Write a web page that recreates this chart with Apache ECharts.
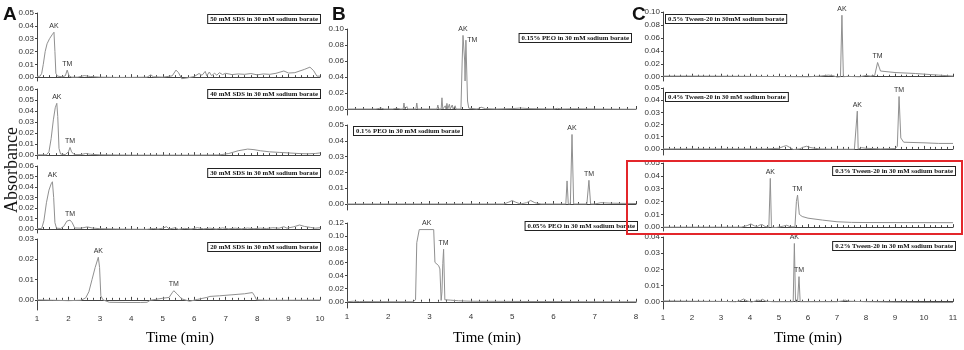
<!DOCTYPE html>
<html>
<head>
<meta charset="utf-8">
<script src="https://cdn.jsdelivr.net/npm/echarts@6/dist/echarts.min.js"></script>
<style>
  html, body { margin: 0; padding: 0; background: #fff; }
  #chart { width: 964px; height: 350px; }
</style>
</head>
<body>
<div id="chart"></div>
<script>
// ---- traces: [time (min), absorbance] ----
const sds50 = [[1.0,0.0005],[1.1,0.0008],[1.15,0.003],[1.2,0.01],[1.26,0.02],[1.32,0.026],[1.4,0.03],[1.48,0.033],[1.54,0.035],[1.57,0.02],[1.6,0.003],[1.65,0.0008],[1.8,0.0003],[1.9,0.001],[1.96,0.0055],[2.02,0.001],[2.1,0.0],[2.3,0.0],[2.5,0.0012],[2.7,0.0005],[3.0,0.0],[3.5,-0.0002],[4.0,-0.0002],[4.5,0.0],[4.62,0.0018],[4.7,0.0003],[5.0,0.0],[5.3,0.001],[5.42,0.0055],[5.5,0.0035],[5.6,-0.0012],[5.8,-0.0005],[6.0,0.0005],[6.15,0.0028],[6.25,0.0015],[6.35,0.0045],[6.4,0.001],[6.48,0.004],[6.55,0.0012],[6.65,0.003],[6.72,0.0015],[6.8,0.0035],[6.9,0.002],[7.0,0.003],[7.2,0.002],[7.4,0.0025],[7.6,0.0022],[7.8,0.0028],[8.0,0.0018],[8.2,0.0025],[8.4,0.0022],[8.6,0.003],[8.85,0.0048],[9.0,0.0032],[9.2,0.0035],[9.5,0.006],[9.68,0.0078],[9.8,0.005],[9.9,0.0008],[10.0,0.0008]];
const sds40 = [[1.0,0.0003],[1.3,0.0003],[1.38,0.003],[1.45,0.015],[1.52,0.032],[1.58,0.043],[1.63,0.047],[1.66,0.035],[1.7,0.006],[1.75,0.001],[1.9,0.0005],[2.0,0.003],[2.05,0.007],[2.1,0.003],[2.18,0.0005],[2.4,0.0005],[2.55,0.0015],[2.7,0.0008],[3.0,0.0003],[4.0,0.0],[5.0,0.0],[6.0,0.0],[6.8,0.0002],[7.1,0.0015],[7.4,0.004],[7.7,0.0055],[7.9,0.005],[8.1,0.004],[8.4,0.003],[8.7,0.0025],[9.0,0.002],[9.3,0.0015],[9.6,0.0012],[9.85,0.0015],[10.0,0.002]];
const sds30 = [[1.0,0.0003],[1.15,0.0005],[1.22,0.008],[1.3,0.025],[1.38,0.037],[1.45,0.043],[1.49,0.045],[1.53,0.03],[1.57,0.006],[1.62,0.0008],[1.75,0.0005],[1.85,0.0025],[1.95,0.0075],[2.05,0.0085],[2.12,0.006],[2.2,0.001],[2.4,0.0008],[2.6,0.002],[2.75,0.001],[3.0,0.0003],[3.5,0.0],[4.0,-0.0002],[4.5,-0.0003],[4.7,0.0005],[4.85,0.0],[5.0,0.0008],[5.12,0.0022],[5.2,0.0],[5.4,0.0012],[5.5,-0.0003],[5.7,0.0006],[5.9,0.0],[6.1,0.0012],[6.3,0.0002],[6.5,0.0008],[6.7,0.0],[6.9,0.001],[7.1,0.0002],[7.3,0.0008],[7.5,0.0002],[7.7,0.0009],[7.9,0.0003],[8.1,0.0008],[8.3,0.0005],[8.5,0.0012],[8.7,0.0008],[8.85,0.0022],[8.95,0.0008],[9.15,0.002],[9.35,0.0038],[9.5,0.0025],[9.7,0.0015],[9.85,0.0008],[10.0,0.0012]];
const sds20 = [[1.0,0.0],[1.5,-0.0002],[2.0,-0.0004],[2.4,-0.0002],[2.55,0.001],[2.65,0.004],[2.75,0.01],[2.85,0.016],[2.95,0.021],[2.99,0.016],[3.03,0.002],[3.1,0.0],[3.3,-0.0012],[3.8,-0.0013],[4.3,-0.0013],[4.5,-0.0012],[4.6,-0.0002],[4.8,0.0003],[5.0,0.0008],[5.2,0.0012],[5.3,0.0035],[5.35,0.0045],[5.45,0.003],[5.6,0.0005],[5.85,-0.0007],[6.1,0.0002],[6.4,0.0012],[6.5,0.0017],[6.8,0.002],[7.2,0.0025],[7.6,0.003],[7.85,0.0036],[7.92,0.002],[7.98,0.0],[8.3,-0.0002],[9.0,-0.0002],[10.0,-0.0001]];

const peo015 = [[1.0,0.0],[1.7,0.0],[1.82,0.0012],[1.9,0.0],[2.1,0.0],[2.2,0.0009],[2.3,0.0],[2.36,0.0],[2.38,0.0075],[2.4,0.0],[2.43,0.0],[2.45,0.003],[2.47,0.0],[2.67,0.0],[2.69,0.0075],[2.71,0.0],[3.18,0.0],[3.2,0.005],[3.22,0.0],[3.28,0.0],[3.3,0.014],[3.32,0.0],[3.36,0.0],[3.38,0.004],[3.4,0.0],[3.42,0.007],[3.44,0.0],[3.48,0.006],[3.5,0.0],[3.55,0.005],[3.57,0.0],[3.62,0.004],[3.64,0.0],[3.76,0.0],[3.79,0.06],[3.81,0.092],[3.83,0.091],[3.85,0.06],[3.86,0.035],[3.88,0.086],[3.9,0.086],[3.92,0.01],[3.95,0.001],[4.15,0.0],[4.25,0.0022],[4.35,0.0005],[4.6,0.0],[5.0,0.0005],[5.2,0.0012],[5.4,0.0005],[6.0,0.0],[6.1,0.0008],[6.2,0.0],[6.5,0.0003],[7.0,0.0],[8.0,-0.0003]];
const peo010 = [[1.0,0.0],[3.0,0.0],[4.8,0.0],[4.92,0.0012],[5.0,0.0022],[5.08,0.0012],[5.2,0.0],[5.35,0.0008],[5.45,0.0022],[5.55,0.0008],[5.7,0.0],[6.3,0.0],[6.33,0.0146],[6.36,0.0],[6.41,0.0],[6.45,0.044],[6.49,0.0],[6.81,0.0],[6.86,0.015],[6.9,0.0],[7.0,0.0],[7.15,0.0008],[7.4,0.0005],[8.0,0.0003]];
const peo005 = [[1.0,0.0],[1.15,0.0008],[1.3,0.0003],[2.0,0.0],[2.6,0.0],[2.66,0.003],[2.69,0.09],[2.75,0.11],[3.1,0.11],[3.13,0.06],[3.22,0.055],[3.25,0.05],[3.28,0.002],[3.3,0.015],[3.32,0.058],[3.34,0.08],[3.37,0.003],[3.5,0.0025],[3.7,0.0015],[4.0,0.0008],[5.0,0.0005],[6.0,0.0003],[7.0,0.0],[8.0,0.0]];

const tween05 = [[1.0,0.001],[2.0,0.001],[3.0,0.0008],[4.0,0.0005],[5.0,0.0003],[6.0,0.0],[6.4,0.0008],[6.7,0.0025],[6.85,0.0018],[7.0,-0.0005],[7.12,0.0],[7.17,0.095],[7.22,0.0],[7.35,0.0005],[7.8,0.0],[8.0,0.002],[8.15,0.001],[8.3,0.002],[8.4,0.022],[8.5,0.0088],[9.0,0.0065],[9.7,0.005],[10.0,0.004],[10.5,0.0025],[11.0,0.001]];
const tween04 = [[1.0,0.0],[3.0,0.0],[4.5,0.0],[5.0,0.0005],[5.15,0.002],[5.26,0.0027],[5.35,0.0015],[5.5,-0.0005],[5.7,0.0],[5.85,0.0015],[5.95,0.0022],[6.1,0.001],[6.4,0.0],[7.0,-0.0003],[7.6,-0.0003],[7.66,0.0],[7.7,0.031],[7.73,0.0],[7.85,0.001],[8.0,0.0005],[8.5,0.0],[9.0,0.0003],[9.08,0.002],[9.14,0.043],[9.2,0.009],[9.3,0.0055],[10.0,0.005],[10.5,0.0045],[11.0,0.0045]];
const tween03 = [[1.0,0.0],[2.0,0.0],[3.0,0.0],[3.7,0.0],[3.9,0.0012],[4.03,0.0025],[4.15,0.001],[4.25,0.0005],[4.35,0.0018],[4.42,0.002],[4.52,0.0005],[4.65,0.0],[4.7,0.038],[4.74,0.0],[4.9,-0.0003],[5.15,0.0008],[5.26,0.0015],[5.4,0.0003],[5.55,0.0003],[5.6,0.02],[5.64,0.025],[5.7,0.01],[5.8,0.0083],[6.0,0.007],[6.5,0.0055],[7.0,0.0042],[7.5,0.0037],[8.0,0.0036],[11.0,0.0035]];
const tween02 = [[1.0,0.0005],[2.0,0.0003],[3.0,0.0002],[3.5,0.0],[3.65,0.0005],[3.78,0.0017],[3.9,0.0005],[4.05,-0.0002],[4.2,0.0005],[4.28,0.001],[4.35,0.0007],[4.43,0.0015],[4.55,0.0003],[4.8,0.0],[5.49,0.0],[5.53,0.036],[5.57,0.0],[5.64,0.0],[5.69,0.0155],[5.73,0.0],[6.0,0.0],[7.0,0.0],[7.2,0.0005],[7.28,0.001],[7.4,0.0003],[8.0,0.0],[9.0,-0.0003],[10.0,-0.0005],[11.0,-0.0005]];

// peak annotations: [name, time, absorbance]
const peaksSds50 = [["AK",1.54,0.035],["TM",1.96,0.0055]];
const peaksSds40 = [["AK",1.63,0.047],["TM",2.05,0.007]];
const peaksSds30 = [["AK",1.49,0.045],["TM",2.05,0.0085]];
const peaksSds20 = [["AK",2.95,0.021],["TM",5.35,0.0045]];
const peaksPeo015 = [["AK",3.81,0.092],["TM",3.89,0.086]];
const peaksPeo010 = [["AK",6.45,0.044],["TM",6.86,0.015]];
const peaksPeo005 = [["AK",2.93,0.11],["TM",3.34,0.08]];
const peaksTween05 = [["AK",7.17,0.095],["TM",8.4,0.022]];
const peaksTween04 = [["AK",7.7,0.031],["TM",9.14,0.043]];
const peaksTween03 = [["AK",4.7,0.038],["TM",5.63,0.025]];
const peaksTween02 = [["AK",5.53,0.036],["TM",5.69,0.0155]];

// y tick labels per panel
const ticks05 = [0, 0.01, 0.02, 0.03, 0.04, 0.05];
const ticks06 = [0, 0.01, 0.02, 0.03, 0.04, 0.05, 0.06];
const ticks03 = [0, 0.01, 0.02, 0.03];
const ticks04 = [0, 0.01, 0.02, 0.03, 0.04];
const ticks10 = [0, 0.02, 0.04, 0.06, 0.08, 0.10];
const ticks12 = [0, 0.02, 0.04, 0.06, 0.08, 0.10, 0.12];

// buffer condition captions
const captionsA = ["50 mM SDS in 30 mM sodium borate", "40 mM SDS in 30 mM sodium borate", "30 mM SDS in 30 mM sodium borate", "20 mM SDS in 30 mM sodium borate"];
const captionsB = ["0.15% PEO in 30 mM sodium borate", "0.1% PEO in 30 mM sodium borate", "0.05% PEO in 30 mM sodium borate"];
const captionsC = ["0.5% Tween-20 in 30mM sodium borate", "0.4% Tween-20 in 30 mM sodium borate", "0.3% Tween-20 in 30 mM sodium borate", "0.2% Tween-20 in 30 mM sodium borate"];

const cols = {
  A: { left: 37, width: 283, xmax: 10 },
  B: { left: 347, width: 289, xmax: 8 },
  C: { left: 663, width: 290, xmax: 11 }
};

// layout of each stacked panel
const panels = [
  { col: "A", data: sds50, peaks: peaksSds50, ticks: ticks05, min: -0.003, max: 0.05, top: 13, height: 68, cap: captionsA[0], capX: 321, capY: 14, capAlign: "right" },
  { col: "A", data: sds40, peaks: peaksSds40, ticks: ticks06, min: -0.0035, max: 0.06, top: 89, height: 70, cap: captionsA[1], capX: 321, capY: 89, capAlign: "right" },
  { col: "A", data: sds30, peaks: peaksSds30, ticks: ticks06, min: -0.0038, max: 0.06, top: 166, height: 67, cap: captionsA[2], capX: 321, capY: 168, capAlign: "right" },
  { col: "A", data: sds20, peaks: peaksSds20, ticks: ticks03, min: -0.005, max: 0.03, top: 239, height: 71, cap: captionsA[3], capX: 321, capY: 242, capAlign: "right", bottom: true },
  { col: "B", data: peo015, peaks: peaksPeo015, ticks: ticks10, min: -0.0075, max: 0.10, top: 29, height: 86, cap: captionsB[0], capX: 632, capY: 33, capAlign: "right", tmShift: [6, 6] },
  { col: "B", data: peo010, peaks: peaksPeo010, ticks: ticks05, min: -0.0038, max: 0.05, top: 125, height: 85, cap: captionsB[1], capX: 353, capY: 126, capAlign: "left" },
  { col: "B", data: peo005, peaks: peaksPeo005, ticks: ticks12, min: -0.0095, max: 0.12, top: 223, height: 85, cap: captionsB[2], capX: 638, capY: 221, capAlign: "right", bottom: true },
  { col: "C", data: tween05, peaks: peaksTween05, ticks: ticks10, min: -0.0066, max: 0.10, top: 12, height: 69, cap: captionsC[0], capX: 665, capY: 14, capAlign: "left" },
  { col: "C", data: tween04, peaks: peaksTween04, ticks: ticks05, min: -0.005, max: 0.05, top: 88, height: 67, cap: captionsC[1], capX: 665, capY: 92, capAlign: "left" },
  { col: "C", data: tween03, peaks: peaksTween03, ticks: ticks05, min: -0.003, max: 0.05, top: 163, height: 68, cap: captionsC[2], capX: 956, capY: 166, capAlign: "right" },
  { col: "C", data: tween02, peaks: peaksTween02, ticks: ticks04, min: -0.0045, max: 0.04, top: 237, height: 72, cap: captionsC[3], capX: 956, capY: 241, capAlign: "right", bottom: true }
];

const chart = echarts.init(document.getElementById("chart"), null, { renderer: "canvas" });

const tickFont = { fontFamily: "Liberation Sans", fontSize: 8, color: "#333" };
const axisColor = "#444";

let grid = [], xAxis = [], yAxis = [], series = [];
let graphic = [];

panels.forEach((p, i) => {
  const c = cols[p.col];
  grid.push({ left: c.left, top: p.top, width: c.width, height: p.height, containLabel: false, outerBoundsMode: "none" });
  xAxis.push({
    type: "value", gridIndex: i, min: 1, max: c.xmax, interval: 1,
    axisLine: { lineStyle: { color: axisColor, width: 1 } },
    axisTick: { inside: true, length: 3, lineStyle: { color: axisColor } },
    minorTick: { show: true, splitNumber: 5, length: 2, lineStyle: { color: axisColor } },
    axisLabel: Object.assign({ show: !!p.bottom, margin: 5 }, tickFont),
    splitLine: { show: false }
  });
  yAxis.push({
    type: "value", gridIndex: i, min: p.min, max: p.max,
    axisLine: { show: true, lineStyle: { color: axisColor, width: 1 } },
    axisTick: { show: true, length: 2, customValues: p.ticks, lineStyle: { color: axisColor } },
    axisLabel: Object.assign({ margin: 3, customValues: p.ticks, formatter: v => v.toFixed(2) }, tickFont),
    splitLine: { show: false }
  });
  series.push({
    type: "line", xAxisIndex: i, yAxisIndex: i,
    data: p.data, showSymbol: false, silent: true, animation: false,
    lineStyle: { color: "#909090", width: 1 },
    markPoint: {
      symbol: "circle", symbolSize: 0, animation: false,
      data: p.peaks.map(pk => ({
        name: pk[0], coord: [pk[1], pk[2]],
        label: (pk[0] === "TM" && p.tmShift) ? { offset: p.tmShift } : {}
      })),
      label: { show: true, position: "top", distance: 3, formatter: "{b}", fontFamily: "Liberation Sans", fontSize: 7, color: "#333" }
    }
  });
  graphic.push({
    type: "text", left: p.capAlign === "left" ? p.capX : null, right: p.capAlign === "right" ? 964 - p.capX : null, top: p.capY,
    style: {
      text: p.cap, font: "bold 6.8px 'Liberation Serif'", fill: "#111",
      backgroundColor: "#fff", borderColor: "#222", borderWidth: 1, padding: [1, 2, 0, 2]
    }
  });
});

// panel letters, axis titles and the highlight frame
const titleFont = "15px 'Liberation Serif'";
graphic.push(
  { type: "text", left: 3, top: 5, style: { text: "A", font: "bold 19px 'Liberation Sans'", fill: "#111" } },
  { type: "text", left: 332, top: 5, style: { text: "B", font: "bold 19px 'Liberation Sans'", fill: "#111" } },
  { type: "text", left: 632, top: 5, style: { text: "C", font: "bold 19px 'Liberation Sans'", fill: "#111" } },
  { type: "text", x: 12, y: 170, rotation: Math.PI / 2, style: { text: "Absorbance", font: "18px 'Liberation Serif'", fill: "#111", textAlign: "center", textVerticalAlign: "middle" } },
  { type: "text", x: 180, y: 338, style: { text: "Time (min)", font: titleFont, fill: "#000", textAlign: "center", textVerticalAlign: "middle" } },
  { type: "text", x: 487, y: 338, style: { text: "Time (min)", font: titleFont, fill: "#000", textAlign: "center", textVerticalAlign: "middle" } },
  { type: "text", x: 808, y: 338, style: { text: "Time (min)", font: titleFont, fill: "#000", textAlign: "center", textVerticalAlign: "middle" } },
  { type: "rect", shape: { x: 627, y: 161, width: 335, height: 73 }, style: { fill: "none", stroke: "#e3262b", lineWidth: 2 }, z: 100 }
);

chart.setOption({
  animation: false,
  backgroundColor: "#fff",
  grid: grid,
  xAxis: xAxis,
  yAxis: yAxis,
  series: series,
  graphic: graphic
});
</script>
</body>
</html>
